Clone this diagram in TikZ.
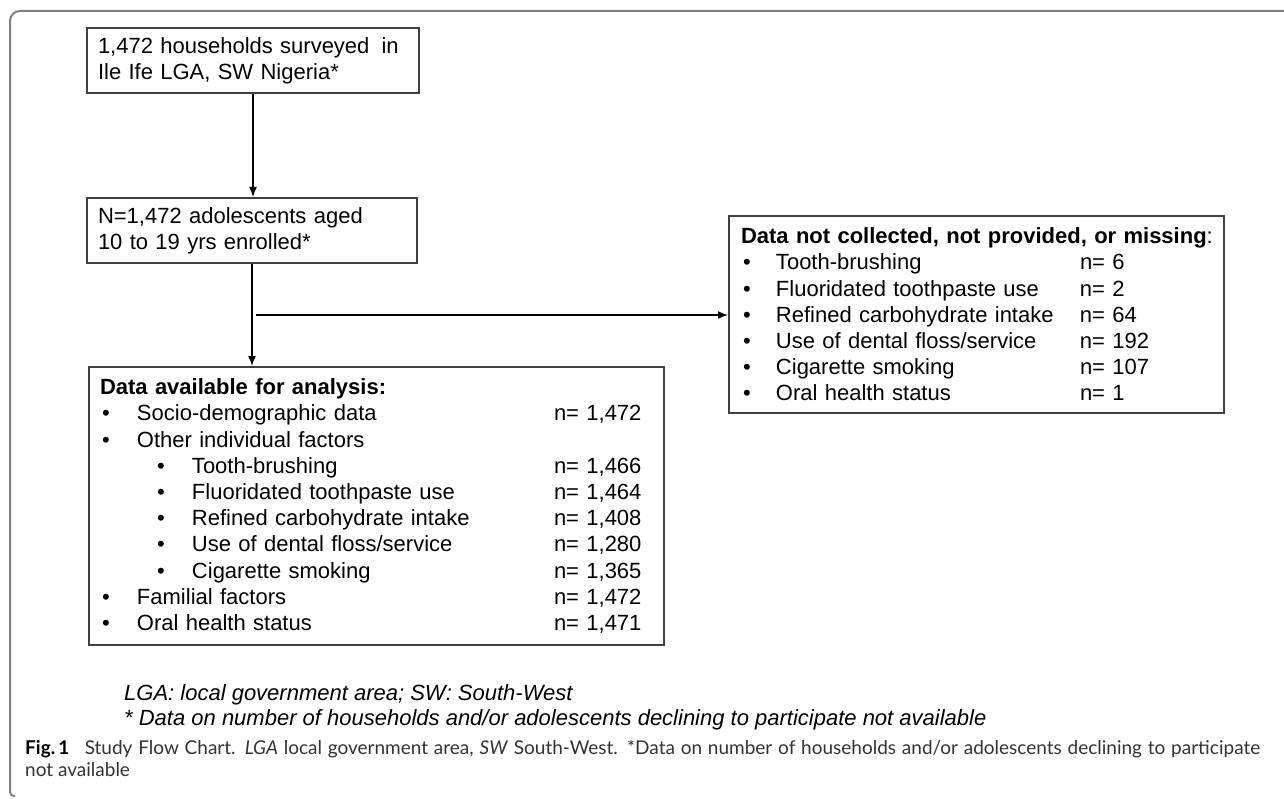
\documentclass[tikz,border=0pt]{standalone}
\usepackage{fontspec}
\setmainfont{Liberation Sans}
\newfontfamily\capfont{Lato}
\usetikzlibrary{arrows.meta,calc}
\definecolor{boxline}{HTML}{404040}
\definecolor{framecol}{HTML}{808080}
\definecolor{captext}{HTML}{333333}
\newcommand\myB[2]{\hspace*{2pt}\makebox[35pt][l]{\textbullet}\makebox[417pt][l]{#1}#2}
\newcommand\myS[2]{\hspace*{57pt}\makebox[35pt][l]{\textbullet}\makebox[362pt][l]{#1}#2}
\newcommand\myR[2]{\hspace*{2pt}\makebox[33pt][l]{\textbullet}\makebox[304pt][l]{#1}#2}
\begin{document}
\begin{tikzpicture}[x=1pt,y=-1pt,
  every node/.style={inner sep=0pt},
  box/.style={draw=boxline, line width=2pt, rectangle, anchor=north west,
    inner xsep=11pt, inner ysep=0pt, align=left,
    font=\fontsize{22}{26.2}\selectfont},
  arr/.style={draw=black, line width=1.5pt, -{Latex[length=10pt,width=8pt]}},
  foot/.style={anchor=base west, font=\fontsize{22}{26}\selectfont\itshape},
  capt/.style={anchor=base west, text=captext, font=\capfont\fontsize{19}{22}\selectfont}
  ]
\useasboundingbox (0,0) rectangle (1284,799);
\fill[white] (0,0) rectangle (1284,799);
% frame
\draw[framecol, line width=2pt, rounded corners=10pt] (1300,11) -- (10,11) -- (10,790);
\draw[framecol, line width=2pt] (10,789) .. controls (10,794) and (11,796) .. (15,796);
% boxes
\node[box, text width=310pt, minimum width=332pt, minimum height=65pt] (b1) at (86,27)
  {1,472 households surveyed\hspace{0.55em}in\\Ile Ife LGA, SW Nigeria*};
\node[box, text width=308pt, minimum width=330pt, minimum height=65pt] (b2) at (86,197)
  {N=1,472 adolescents aged\\10 to 19 yrs enrolled*};
\node[box, text width=553pt, minimum width=575pt, minimum height=278pt] (b3) at (88,366)
  {\textbf{Data available for analysis:}\\
   \myB{Socio-demographic data}{n= 1,472}\\
   \myB{Other individual factors}{}\\
   \myS{Tooth-brushing}{n= 1,466}\\
   \myS{Fluoridated toothpaste use}{n= 1,464}\\
   \myS{Refined carbohydrate intake}{n= 1,408}\\
   \myS{Use of dental floss/service}{n= 1,280}\\
   \myS{Cigarette smoking}{n= 1,365}\\
   \myB{Familial factors}{n= 1,472}\\
   \myB{Oral health status}{n= 1,471}};
\node[box, inner xsep=12pt, text width=471pt, minimum width=495pt, minimum height=197pt] (b4) at (728,215)
  {\mbox{\textbf{Data not collected, not provided, or missing}:}\\
   \myR{Tooth-brushing}{n= 6}\\
   \myR{Fluoridated toothpaste use}{n= 2}\\
   \myR{Refined carbohydrate intake}{n= 64}\\
   \myR{Use of dental floss/service}{n= 192}\\
   \myR{Cigarette smoking}{n= 107}\\
   \myR{Oral health status}{n= 1}};
% connectors
\draw[arr] (b1.south) -- (b1.south |- b2.north);
\draw[arr] (b2.south) -- (b2.south |- b3.north);
\coordinate (br) at ($(b2.south)+(4,51)$);
\draw[arr] (br) -- (br -| b4.west);
% footnotes
\node[foot] (fn1) at (124,700) {LGA: local government area; SW: South-West};
\node[foot] (fn2) at (124,725) {* Data on number of households and/or adolescents declining to participate not available};
% caption
\node[capt] (cap1) at (25,754) {\makebox[1235pt][s]{\textcolor{black}{\textbf{Fig.\,1}}\hspace{0.5em} Study Flow Chart. \textit{LGA} local government area, \textit{SW} South-West. *Data on number of households and/or adolescents declining to participate}};
\node[capt] (cap2) at (25,776) {not available};
\end{tikzpicture}
\end{document}
